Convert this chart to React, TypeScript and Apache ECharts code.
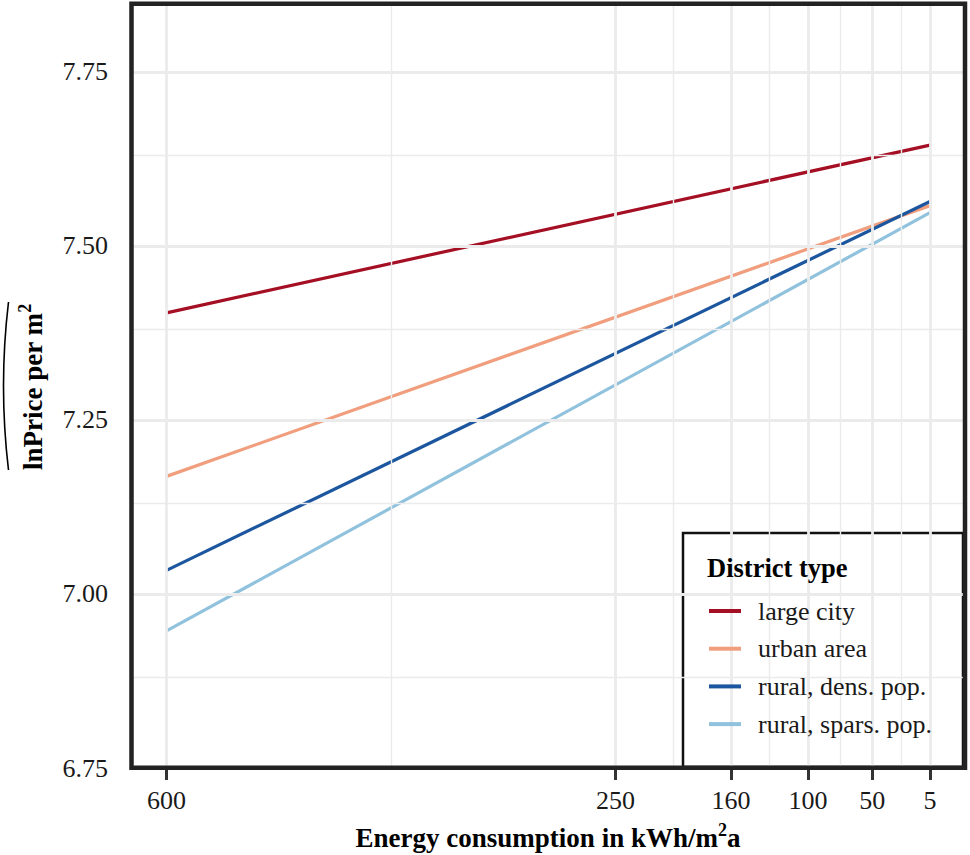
import React, { useEffect, useRef } from "react";
import * as echarts from "echarts";

// ---- data ----
const seriesNames = ["large city", "urban area", "rural, dens. pop.", "rural, spars. pop."];
const seriesColors = ["#A50F24", "#F09E7D", "#1B569E", "#91C2DD"];
const energyPoints = [600, 5];
const largeCity = [7.404, 7.645];
const urbanArea = [7.169, 7.558];
const ruralDens = [7.034, 7.564];
const ruralSpars = [6.947, 7.548];
const xTicks = [600, 250, 160, 100, 50, 5];
const xMinorGrid = [425, 205, 130, 75, 27.5];
const yTicks = [6.75, 7.0, 7.25, 7.5, 7.75];
const yMinorGrid = [6.875, 7.125, 7.375, 7.625];

const FONT = "Liberation Serif";

export default function App() {
  const ref = useRef<HTMLDivElement>(null);

  useEffect(() => {
    document.body.style.margin = "0";
    if (!ref.current) return;
    const chart = echarts.init(ref.current, undefined, { renderer: "svg" });

    const values = [largeCity, urbanArea, ruralDens, ruralSpars];
    const lineSeries = seriesNames.map((name, i) => ({
      type: "line",
      name,
      data: energyPoints.map((x, j) => [x, values[i][j]]),
      symbol: "none",
      color: seriesColors[i],
      lineStyle: { color: seriesColors[i], width: 3.2 },
      z: 2,
    }));

    const gridMajor = { color: "#EBEBEB", width: 2.8, type: "solid" };
    const gridMinor = { color: "#EBEBEB", width: 1.4, type: "solid" };

    const tickLabelStyle = {
      fontFamily: FONT,
      fontSize: 26,
      fontWeight: "normal",
      color: "#1A1A1A",
    };

    const option: any = {
      animation: false,
      backgroundColor: "#ffffff",
      textStyle: { fontFamily: FONT },
      grid: { left: 131.5, right: 5, top: 4, bottom: 87, containLabel: false },
      xAxis: {
        type: "value",
        inverse: true,
        min: -22.28,
        max: 627.28,
        axisLine: { show: false },
        axisTick: {
          show: true,
          customValues: xTicks,
          length: 12,
          lineStyle: { color: "#333333", width: 3 },
        },
        axisLabel: {
          ...tickLabelStyle,
          customValues: xTicks,
          margin: 19,
          formatter: (v: number) => String(v),
        },
        splitLine: { show: false },
      },
      yAxis: {
        type: "value",
        min: 6.75,
        max: 7.8477,
        axisLine: { show: false },
        axisTick: {
          show: true,
          customValues: yTicks,
          length: 13,
          lineStyle: { color: "#333333", width: 3 },
        },
        axisLabel: {
          ...tickLabelStyle,
          customValues: yTicks,
          margin: 23.5,
          formatter: (v: number) => v.toFixed(2),
        },
        splitLine: { show: false },
      },
      legend: {
        data: seriesNames,
        orient: "vertical",
        left: 709,
        top: 596,
        padding: 0,
        itemWidth: 32,
        itemHeight: 4,
        itemGap: 7.7,
        icon: "rect",
        selectedMode: false,
        z: 6,
        textStyle: {
          fontFamily: FONT,
          fontSize: 26,
          color: "#1A1A1A",
          lineHeight: 30,
          padding: [0, 0, 0, 12],
        },
      },
      graphic: [
        {
          type: "rect",
          z: 3,
          shape: { x: 683, y: 533, width: 280, height: 234 },
          style: { fill: "#ffffff", stroke: "#111111", lineWidth: 2.5 },
          silent: true,
        },
        {
          type: "text",
          z: 7,
          x: 707,
          y: 568,
          style: {
            text: "District type",
            fontFamily: FONT,
            fontSize: 26.5,
            fontWeight: "bold",
            fill: "#000000",
            align: "left",
            verticalAlign: "middle",
          },
          silent: true,
        },
        {
          type: "rect",
          z: 10,
          shape: { x: 131.5, y: 3.8, width: 833.5, height: 764 },
          style: { fill: "none", stroke: "#222222", lineWidth: 4.5 },
          silent: true,
        },
        {
          type: "text",
          z: 7,
          x: 548,
          y: 838,
          style: {
            text: "{b|Energy consumption in kWh/m}{s|2}{b|a}",
            align: "center",
            verticalAlign: "middle",
            rich: {
              b: { fontFamily: FONT, fontSize: 27, fontWeight: "bold", lineHeight: 34, fill: "#000000" },
              s: { fontFamily: FONT, fontSize: 18, fontWeight: "bold", lineHeight: 10, verticalAlign: "top", fill: "#000000" },
            },
          },
          silent: true,
        },
        {
          type: "text",
          z: 7,
          x: 33,
          y: 387,
          rotation: Math.PI / 2,
          style: {
            text: "{b|lnPrice per m}{s|2}",
            align: "center",
            verticalAlign: "middle",
            rich: {
              b: { fontFamily: FONT, fontSize: 27, fontWeight: "bold", lineHeight: 34, fill: "#000000" },
              s: { fontFamily: FONT, fontSize: 18, fontWeight: "bold", lineHeight: 10, verticalAlign: "top", fill: "#000000" },
            },
          },
          silent: true,
        },
        {
          type: "bezierCurve",
          z: 7,
          shape: { x1: 8.5, y1: 302, x2: 8.5, y2: 470, cpx1: -1.5, cpy1: 386 },
          style: { stroke: "#000000", lineWidth: 1.6, fill: "none" },
          silent: true,
        },
      ],
      series: [
        {
          type: "line",
          data: [],
          z: 1,
          silent: true,
          markLine: {
            silent: true,
            symbol: "none",
            label: { show: false },
            lineStyle: gridMajor,
            data: [
              ...xTicks.map((v) => ({ xAxis: v, lineStyle: gridMajor })),
              ...xMinorGrid.map((v) => ({ xAxis: v, lineStyle: gridMinor })),
              ...yTicks.map((v) => ({ yAxis: v, lineStyle: gridMajor })),
              ...yMinorGrid.map((v) => ({ yAxis: v, lineStyle: gridMinor })),
            ],
          },
        },
        ...lineSeries,
      ],
    };

    chart.setOption(option);
    return () => chart.dispose();
  }, []);

  return (
    <div
      ref={ref}
      style={{ position: "fixed", left: 0, top: 0, width: 970, height: 855 }}
    />
  );
}
